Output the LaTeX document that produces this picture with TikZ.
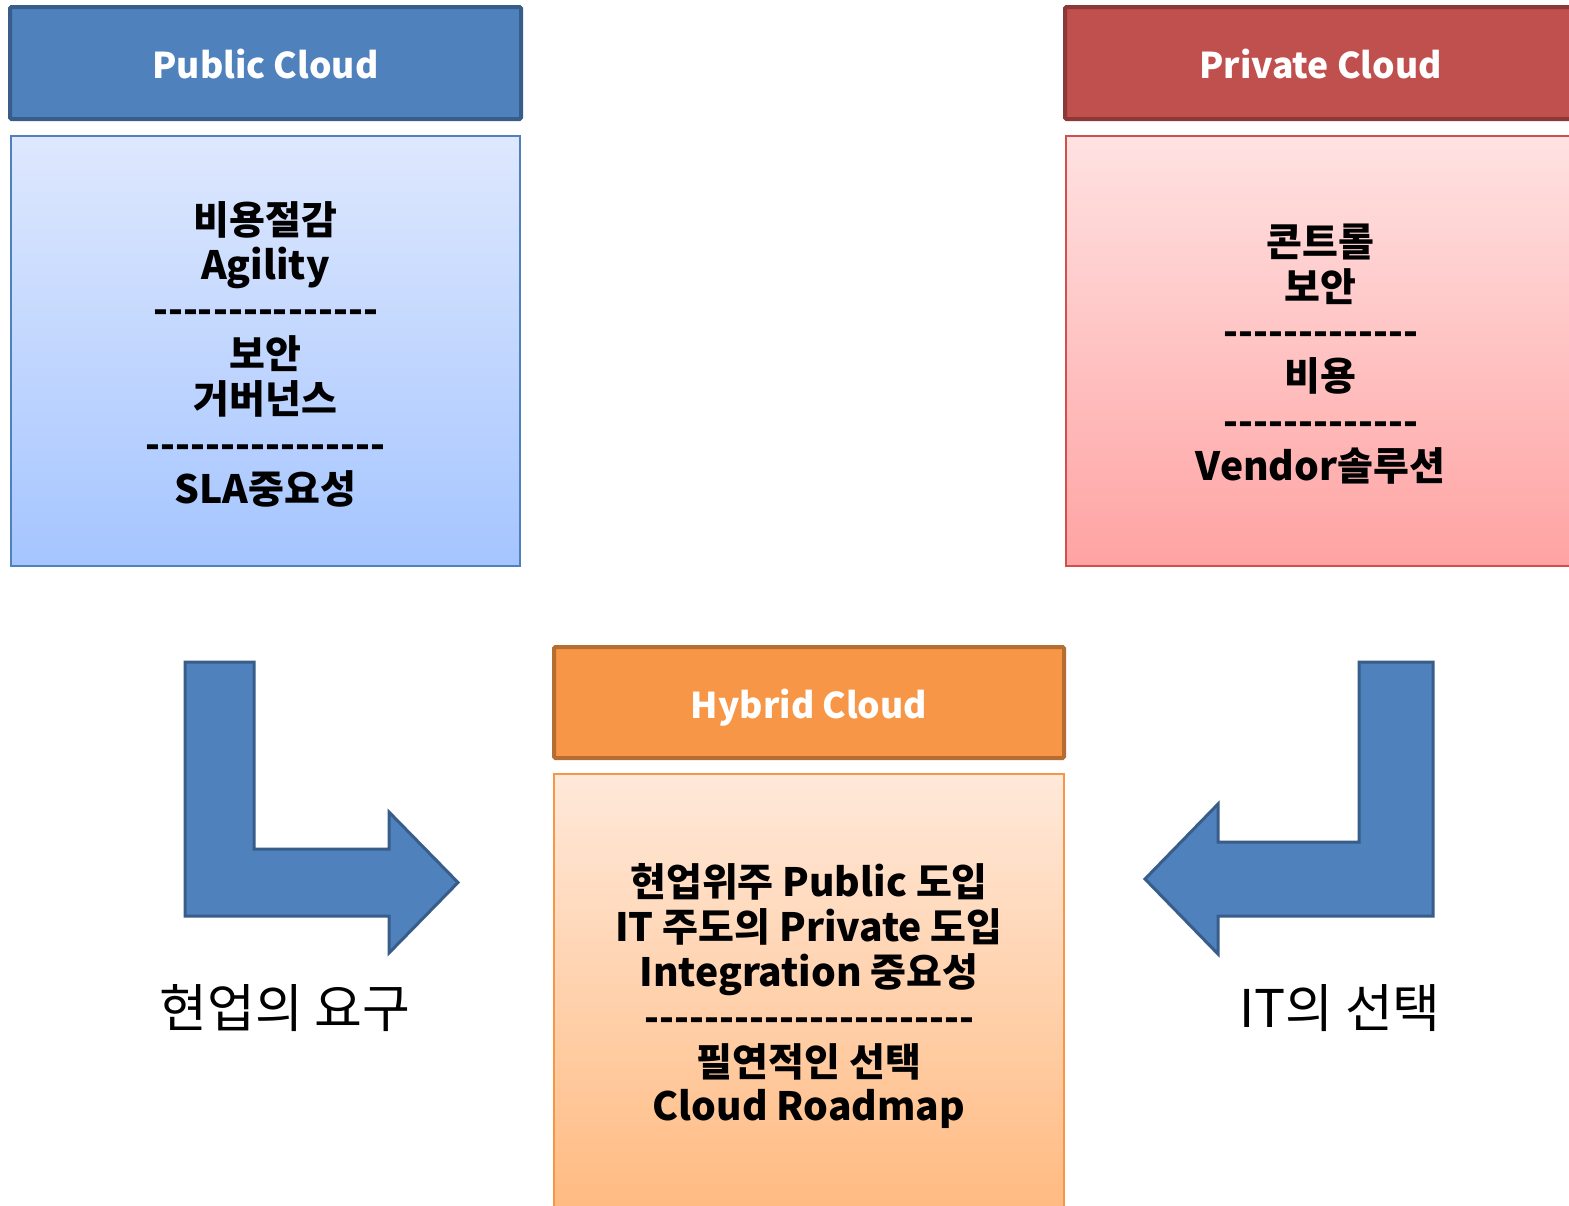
\documentclass[tikz,border=0pt]{standalone}
\usepackage{fontspec}
\setmainfont{Noto Sans CJK KR}[Ligatures=TeXOff]
\newcommand\dd{\makebox[15pt]{-}}
\newcommand\dashrow[1]{\foreach \i in {1,...,#1}{\dd}}
\begin{document}
\begin{tikzpicture}[x=1pt,y=-1pt,
  hdr/.style={draw, line width=4pt, rounded corners=1.5pt, minimum width=511pt, minimum height=112pt,
    inner sep=0pt},
  hdrtxt/.style={anchor=base, inner sep=0pt, text=white, font=\bfseries\fontsize{35.5}{42}\selectfont},
  bodybox/.style={draw, line width=2pt, minimum width=509pt, minimum height=430pt, inner sep=0pt},
  bodytxt/.style={align=center, inner sep=0pt, font=\bfseries\fontsize{39}{44.8}\selectfont},
  lbl/.style={inner sep=0pt, font=\fontsize{52}{60}\selectfont},
  blockarrow/.style={fill=arrowfill, draw=arrowline, line width=3pt, line join=miter}
]
\definecolor{pubfill}{HTML}{4F81BD}
\definecolor{publine}{HTML}{385D8A}
\definecolor{privfill}{HTML}{C0504D}
\definecolor{privline}{HTML}{8C3836}
\definecolor{hybfill}{HTML}{F79646}
\definecolor{hybline}{HTML}{B66D31}
\definecolor{pubtop}{HTML}{DEE8FE}
\definecolor{pubbot}{HTML}{A5C5FF}
\definecolor{privtop}{HTML}{FFE2E2}
\definecolor{privbot}{HTML}{FFA3A3}
\definecolor{privbord}{HTML}{D0504D}
\definecolor{hybtop}{HTML}{FFE9DA}
\definecolor{hybbot}{HTML}{FFBA80}
\definecolor{arrowfill}{HTML}{4F81BD}
\definecolor{arrowline}{HTML}{385D8A}

\useasboundingbox[fill=white] (0,0) rectangle (1569,1205);

% Public Cloud
\node[hdr, fill=pubfill, draw=publine] (pubh) at (265.5,63) {};
\node[hdrtxt] (pubht) at (265.5,78) {Public Cloud};
\node[bodybox, draw=pubfill, top color=pubtop, bottom color=pubbot] (pubb) at (265.5,351) {};
\node[bodytxt] (pubt) at (265.5,354) {비용절감\\Agility\\\dashrow{15}\\보안\\거버넌스\\\dashrow{16}\\SLA중요성};

% Private Cloud
\node[hdr, fill=privfill, draw=privline] (privh) at (1320.5,63) {};
\node[hdrtxt] (privht) at (1320.5,78) {Private Cloud};
\node[bodybox, draw=privbord, top color=privtop, bottom color=privbot] (privb) at (1320.5,351) {};
\node[bodytxt] (privt) at (1320.5,354) {콘트롤\\보안\\\dashrow{13}\\비용\\\dashrow{13}\\Vendor솔루션};

% Hybrid Cloud
\node[hdr, fill=hybfill, draw=hybline, minimum width=510pt, minimum height=111pt] (hybh) at (809,702.5) {};
\node[hdrtxt] (hybht) at (809,718) {Hybrid Cloud};
\node[bodybox, draw=hybfill, top color=hybtop, bottom color=hybbot, minimum width=510pt, minimum height=440pt] (hybb) at (809,994) {};
\node[bodytxt] (hybt) at (809,996.5) {현업위주 Public 도입\\IT 주도의 Private 도입\\Integration 중요성\\\dashrow{22}\\필연적인 선택\\Cloud Roadmap};

% Block arrows
\draw[blockarrow] (185,662) -- (254,662) -- (254,849) -- (389,849) -- (389,812) -- (458,882.5)
  -- (389,953) -- (389,916) -- (185,916) -- cycle;
\draw[blockarrow] (1433,662) -- (1359,662) -- (1359,842) -- (1218,842) -- (1218,804) -- (1145,879)
  -- (1218,954) -- (1218,916) -- (1433,916) -- cycle;

% Labels
\node[lbl] (lreq) at (285,1008) {현업의 요구};
\node[lbl] (rsel) at (1340,1008) {IT의 선택};
\end{tikzpicture}
\end{document}
